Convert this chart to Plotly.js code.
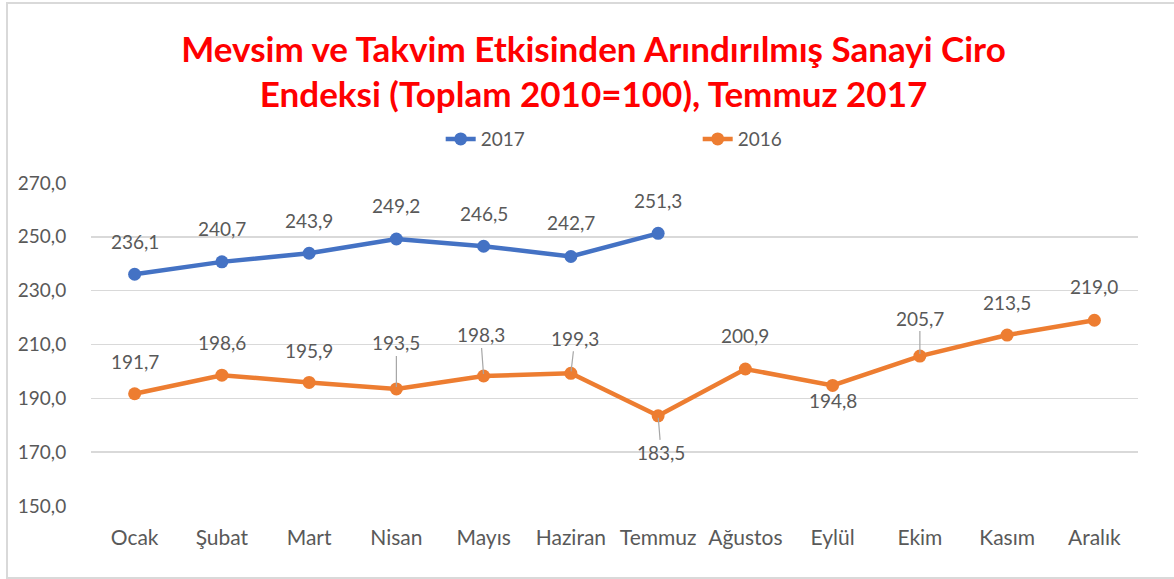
<!DOCTYPE html>
<html>
<head>
<meta charset="utf-8">
<script src="https://cdn.plot.ly/plotly-3.0.1.min.js"></script>
<style>
  html, body { margin: 0; padding: 0; background: #fff; }
  #frame { position: absolute; left: 6px; top: 2px; width: 1180px; height: 573px;
           border-left: 2px solid #d9d9d9; border-top: 2px solid #d9d9d9; border-bottom: 2px solid #d9d9d9; }
  #chart { position: absolute; left: 0; top: 0; width: 1174px; height: 579px; }
</style>
</head>
<body>
<div id="frame"></div>
<div id="chart"></div>
<script>
// ---- data ----
var months = ['Ocak','Şubat','Mart','Nisan','Mayıs','Haziran','Temmuz','Ağustos','Eylül','Ekim','Kasım','Aralık'];
var months2017 = ['Ocak','Şubat','Mart','Nisan','Mayıs','Haziran','Temmuz'];
var values2017 = [236.1, 240.7, 243.9, 249.2, 246.5, 242.7, 251.3];
var values2016 = [191.7, 198.6, 195.9, 193.5, 198.3, 199.3, 183.5, 200.9, 194.8, 205.7, 213.5, 219.0];
var seriesNames = ['2017', '2016'];
var yTicks = [150, 170, 190, 210, 230, 250, 270];
var titleText = 'Mevsim ve Takvim Etkisinden Arındırılmış Sanayi Ciro<br>Endeksi (Toplam 2010=100), Temmuz 2017';

// ---- label placement (style: pixel offsets, leader line flag) ----
var off2017 = [[0,33],[0,33],[0,33],[0,33],[0,33],[0,34],[0,33]];
var off2016 = [[0,32,0],[0,33,0],[0,32,0],[0,46,1],[-3,41,1],[4,35,1],[3,-37,1],[0,33,0],[0,-15,0],[0,38,1],[0,33,0],[0,34,0]];

var BLUE = '#4472C4', ORANGE = '#ED7D31', GRAY = '#595959';
var FONT = 'Lato, "Open Sans", sans-serif';
function fmt(v) { return v.toFixed(1).replace('.', ','); }

var traces = [
  { x: months2017, y: values2017, name: seriesNames[0], type: 'scatter', mode: 'lines+markers',
    line: { color: BLUE, width: 4.5 }, marker: { color: BLUE, size: 13 } },
  { x: months, y: values2016, name: seriesNames[1], type: 'scatter', mode: 'lines+markers',
    line: { color: ORANGE, width: 4.5 }, marker: { color: ORANGE, size: 13 } }
];

var annotations = [];
function addLabels(xs, ys, offs) {
  for (var i = 0; i < ys.length; i++) {
    var o = offs[i];
    var a = { x: xs[i], y: ys[i], xref: 'x', yref: 'y', text: fmt(ys[i]),
              font: { family: FONT, size: 19, color: GRAY } };
    if (o[2]) {
      a.showarrow = true; a.arrowhead = 0; a.arrowwidth = 1.2; a.arrowcolor = '#a6a6a6';
      a.ax = o[0]; a.ay = -o[1]; a.standoff = 2;
    } else {
      a.showarrow = false; a.xshift = o[0]; a.yshift = o[1];
    }
    annotations.push(a);
  }
}
addLabels(months2017, values2017, off2017);
addLabels(months, values2016, off2016);

var layout = {
  width: 1174, height: 579,
  paper_bgcolor: 'rgba(0,0,0,0)', plot_bgcolor: 'rgba(0,0,0,0)',
  margin: { l: 91, r: 36, t: 183, b: 73 },
  separators: ',.',
  title: { text: titleText, x: 0.48, xanchor: 'center', xref: 'paper',
           y: 0.893, yanchor: 'middle', yref: 'container',
           font: { family: FONT, size: 35, color: '#FF0000', weight: 'bold' } },
  showlegend: true,
  legend: { orientation: 'h', x: 0.334, xanchor: 'left', y: 1.136, yanchor: 'middle',
            font: { family: FONT, size: 19, color: GRAY }, entrywidth: 212, bgcolor: 'rgba(0,0,0,0)' },
  xaxis: { type: 'category', categoryarray: months, range: [-0.5, 11.5], showgrid: false, zeroline: false,
           showline: false, ticks: 'outside', ticklen: 13, tickcolor: 'rgba(0,0,0,0)',
           tickfont: { family: FONT, size: 21, color: GRAY }, fixedrange: true },
  yaxis: { range: [150, 270], tickvals: yTicks, tickformat: '.1f', showgrid: true, gridcolor: '#d9d9d9', gridwidth: 1.5,
           zeroline: false, showline: false, ticks: 'outside', ticklen: 20, tickcolor: 'rgba(0,0,0,0)',
           tickfont: { family: FONT, size: 19, color: GRAY }, fixedrange: true },
  annotations: annotations
};

Plotly.newPlot('chart', traces, layout, { displayModeBar: false, staticPlot: true });
</script>
</body>
</html>
